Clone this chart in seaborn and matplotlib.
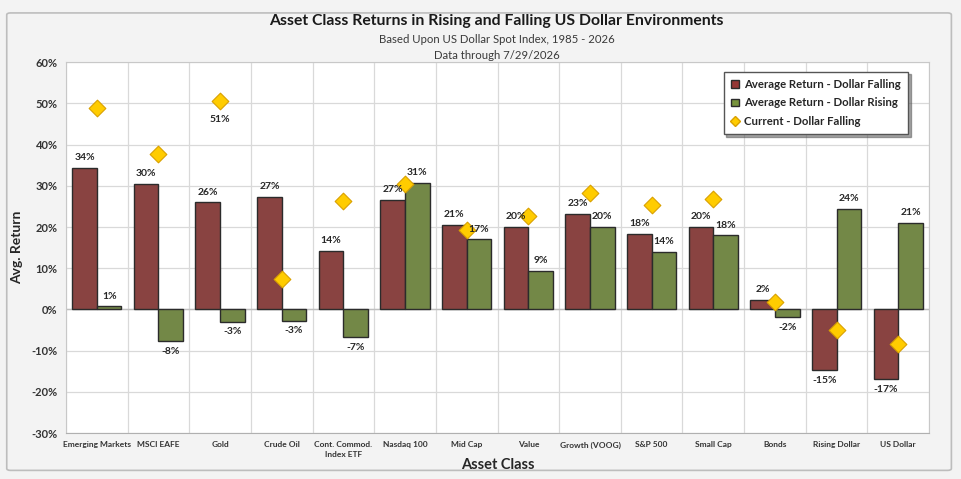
import numpy as np
import pandas as pd
import seaborn as sns
import matplotlib.pyplot as plt
from matplotlib.patches import FancyBboxPatch, Patch
from matplotlib.lines import Line2D

# values (% returns)
asset_classes = [
    "Emerging Markets", "MSCI EAFE", "Gold", "Crude Oil", "Cont. Commod.\nIndex ETF",
    "Nasdaq 100", "Mid Cap", "Value", "Growth (VOOG)", "S&P 500", "Small Cap",
    "Bonds", "Rising Dollar", "US Dollar",
]
dollar_falling = [34.4, 30.5, 26.0, 27.4, 14.2, 26.6, 20.6, 20.0, 23.2, 18.3, 20.0, 2.3, -14.8, -17.0]
dollar_rising = [0.8, -7.7, -3.0, -2.7, -6.8, 30.8, 17.0, 9.4, 20.0, 14.0, 18.0, -1.9, 24.4, 21.0]
current_falling = [49.0, 37.8, 50.6, 7.3, 26.4, 30.4, 19.4, 22.6, 28.3, 25.3, 26.7, 1.8, -4.9, -8.3]

series_names = ["Average Return - Dollar Falling", "Average Return - Dollar Rising"]
current_name = "Current - Dollar Falling"

red = "#953735"
green = "#77933C"
gold = "#FFCC00"

bars_df = pd.DataFrame({
    "Asset Class": asset_classes * 2,
    "Return": dollar_falling + dollar_rising,
    "Series": [series_names[0]] * len(asset_classes) + [series_names[1]] * len(asset_classes),
})
current_df = pd.DataFrame({"Asset Class": asset_classes, "Return": current_falling})

sns.set_style("white")
plt.rcParams["font.family"] = ["Lato", "DejaVu Sans"]

fig = plt.figure(figsize=(9.61, 4.79), dpi=100, facecolor="#f3f3f3")
fig.patches.append(FancyBboxPatch(
    (0.007, 0.018), 0.983, 0.955, boxstyle="round,pad=0,rounding_size=0.004",
    transform=fig.transFigure, facecolor="#f3f3f3", edgecolor="#bdbdbd", lw=1.2, zorder=-5,
))
ax = fig.add_axes([0.0687, 0.096, 0.898, 0.774])
ax.set_facecolor("white")

sns.barplot(
    data=bars_df, x="Asset Class", y="Return", hue="Series",
    palette=[red, green], order=asset_classes, hue_order=series_names,
    edgecolor="#2b2b2b", linewidth=1.0, width=0.8, ax=ax, zorder=3, legend=False,
)
sns.stripplot(
    data=current_df, x="Asset Class", y="Return", order=asset_classes,
    jitter=False, marker="D", size=8.5, color=gold, edgecolor="#d9a000",
    linewidth=0.8, ax=ax, zorder=5,
)

# data labels on bars
for cont in ax.containers:
    ax.bar_label(cont, fmt="{:.0f}%", padding=4, fontsize=7.5,
                 fontweight="bold", color="#262626", zorder=6)

# label under the gold diamond
gold_i = asset_classes.index("Gold")
ax.annotate(f"{current_falling[gold_i]:.0f}%", (gold_i, current_falling[gold_i]),
            xytext=(0, -10), textcoords="offset points", ha="center", va="top",
            fontsize=7.5, fontweight="bold", color="#262626")

ax.set_ylim(-30, 60)
ax.set_xlim(-0.5, len(asset_classes) - 0.5)
ax.set_yticks(np.arange(-30, 61, 10))
ax.set_yticklabels([f"{v}%" for v in range(-30, 61, 10)], fontsize=8, fontweight="bold", color="#333333")
ax.set_xticks(np.arange(len(asset_classes)))
ax.set_xticklabels(asset_classes, fontsize=6, fontweight="bold", color="#333333", linespacing=1.5)
ax.set_xticks(np.arange(len(asset_classes) + 1) - 0.5, minor=True)
ax.tick_params(axis="both", which="both", length=0, pad=6)
ax.grid(axis="y", which="major", color="#d9d9d9", lw=0.9, zorder=0)
ax.grid(axis="x", which="minor", color="#d9d9d9", lw=0.9, zorder=0)
ax.axhline(0, color="#bfbfbf", lw=1.0, zorder=1)
for side in ["top", "right", "left", "bottom"]:
    ax.spines[side].set_color("#c8c8c8")
ax.spines["bottom"].set_color("#b0b0b0")

ax.set_xlabel("Asset Class", fontsize=10.5, fontweight="bold", color="#262626", labelpad=0)
ax.set_ylabel("Avg. Return", fontsize=10, fontweight="bold", color="#262626", labelpad=6)

fig.text(0.517, 0.956, "Asset Class Returns in Rising and Falling US Dollar Environments",
         ha="center", va="center", fontsize=11.3, fontweight="bold", color="#1a1a1a")
fig.text(0.517, 0.918, "Based Upon US Dollar Spot Index, 1985 - 2026",
         ha="center", va="center", fontsize=8.2, color="#3a3a3a")
fig.text(0.517, 0.885, "Data through 7/29/2026",
         ha="center", va="center", fontsize=8.2, color="#3a3a3a")

handles = [
    Patch(facecolor=red, edgecolor="#2b2b2b", label=series_names[0]),
    Patch(facecolor=green, edgecolor="#2b2b2b", label=series_names[1]),
    Line2D([], [], marker="D", ls="none", markersize=5, color=gold,
           markeredgecolor="#d9a000", label=current_name),
]
leg = ax.legend(handles=handles, loc="upper right", bbox_to_anchor=(0.982, 0.99),
                fontsize=8.2, frameon=True, fancybox=False, shadow=True,
                edgecolor="#555555", handlelength=0.7, handleheight=0.7,
                handletextpad=0.4, labelspacing=0.65, borderpad=0.65)
for t in leg.get_texts():
    t.set_fontweight("bold")
    t.set_color("#262626")

fig.savefig("out.png", dpi=100, facecolor=fig.get_facecolor())
